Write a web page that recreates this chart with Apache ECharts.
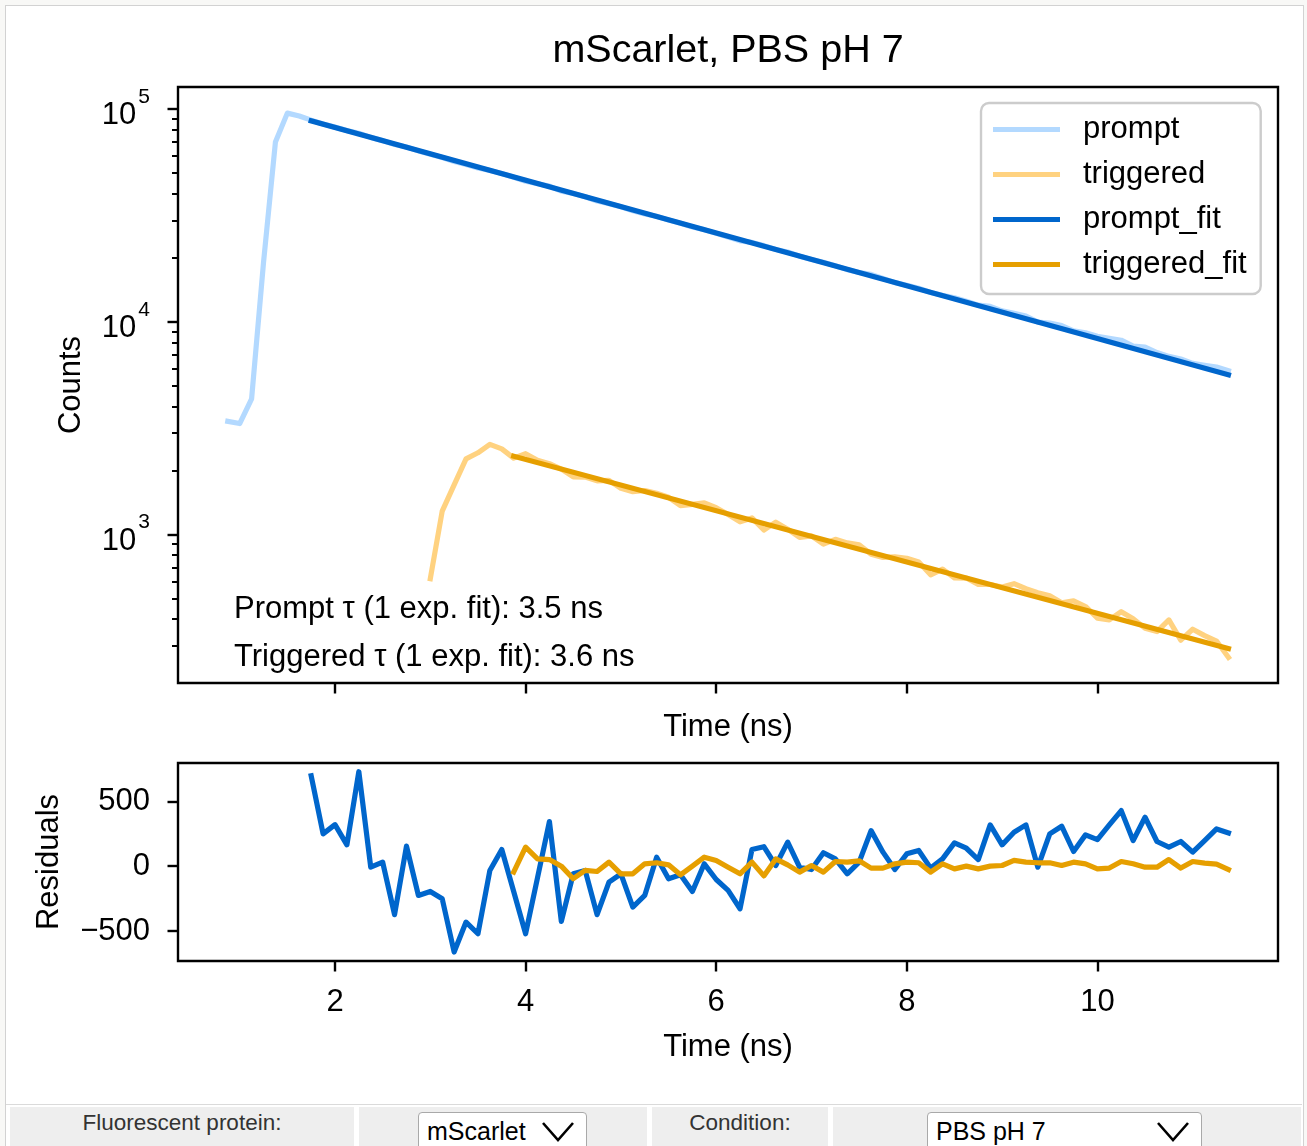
<!DOCTYPE html>
<html>
<head>
<meta charset="utf-8">
<title>mScarlet, PBS pH 7</title>
<script src="https://cdn.jsdelivr.net/npm/echarts@6/dist/echarts.min.js"></script>
<style>
  html, body { margin: 0; padding: 0; width: 1307px; height: 1146px; overflow: hidden;
    background: #f8f8f6; font-family: 'Liberation Sans', Arial, Helvetica, sans-serif; }
  #frame { position: absolute; left: 5px; top: 5px; width: 1299px; height: 1170px;
    box-sizing: border-box; border: 1px solid #d2d2d2; background: #fff; }
  #chart { position: absolute; left: 0; top: 0; width: 1307px; height: 1100px; }
  #rule { position: absolute; left: 6px; top: 1104px; width: 1296px; height: 1px; background: #dadada; }
  .cell { position: absolute; top: 1107px; height: 60px; background: #eeeeee; }
  .lbl { position: absolute; top: 1110px; height: 26px; line-height: 26px; font-size: 22.5px;
    color: #333; text-align: center; white-space: nowrap; }
  .sel { position: absolute; top: 1112px; height: 50px; box-sizing: border-box; border: 1px solid #a9a9a9;
    border-radius: 4px; background: #fff; font-size: 25px; color: #000; line-height: 36px;
    padding-left: 8px; white-space: nowrap; }
  .sel svg { position: absolute; top: 5px; }
</style>
</head>
<body>
<div id="frame"></div>
<div id="chart"></div>
<div id="rule"></div>
<div class="cell" style="left:10px;width:344px"></div>
<div class="lbl" style="left:10px;width:344px">Fluorescent protein:</div>
<div class="cell" style="left:359px;width:288px"></div>
<div class="sel" style="left:418px;width:169px">mScarlet
  <svg style="left:121px" width="36" height="26" viewBox="0 0 36 26"><polyline points="3,5 18,22 33,5" fill="none" stroke="#000" stroke-width="2.6"/></svg>
</div>
<div class="cell" style="left:652px;width:176px"></div>
<div class="lbl" style="left:652px;width:176px">Condition:</div>
<div class="cell" style="left:833px;width:468px"></div>
<div class="sel" style="left:927px;width:275px">PBS pH 7
  <svg style="left:227px" width="36" height="26" viewBox="0 0 36 26"><polyline points="3,5 18,22 33,5" fill="none" stroke="#000" stroke-width="2.6"/></svg>
</div>

<script>
// ---- decay histograms (time in ns, counts per 0.125 ns bin) ----
const promptTime = [
  0.875, 1.0, 1.125, 1.25, 1.375, 1.5, 1.625,
  1.75, 1.875, 2.0, 2.125, 2.25, 2.375, 2.5, 2.625, 2.75, 2.875,
  3.0, 3.125, 3.25, 3.375, 3.5, 3.625, 3.75, 3.875, 4.0, 4.125,
  4.25, 4.375, 4.5, 4.625, 4.75, 4.875, 5.0, 5.125, 5.25, 5.375,
  5.5, 5.625, 5.75, 5.875, 6.0, 6.125, 6.25, 6.375, 6.5, 6.625,
  6.75, 6.875, 7.0, 7.125, 7.25, 7.375, 7.5, 7.625, 7.75, 7.875,
  8.0, 8.125, 8.25, 8.375, 8.5, 8.625, 8.75, 8.875, 9.0, 9.125,
  9.25, 9.375, 9.5, 9.625, 9.75, 9.875, 10.0, 10.125, 10.25, 10.375,
  10.5, 10.625, 10.75, 10.875, 11.0, 11.125, 11.25, 11.375
];
const promptCounts = [
  3400, 3320, 4340, 19000, 69950, 95700, 92700,
  88700, 85160, 82250, 79220, 77010, 73600, 71060, 68160, 66280, 63580,
  61380, 59160, 56670, 54890, 52850, 51470, 49820, 47760, 45750, 44560,
  43420, 41140, 40050, 38670, 36970, 35910, 34710, 33240, 32150, 31310,
  30050, 29020, 27870, 27100, 26030, 25030, 24000, 23600, 22800, 21860,
  21270, 20340, 19610, 19050, 18340, 17580, 17050, 16700, 15960, 15270,
  14850, 14360, 13720, 13310, 12970, 12480, 11960, 11810, 11250, 10960,
  10640, 9953, 9861, 9583, 9062, 8876, 8537, 8358, 8186, 7683,
  7600, 7160, 6871, 6679, 6369, 6239, 6117, 5881
];
const triggeredTime = [
  3.0, 3.125, 3.25, 3.375, 3.5, 3.625, 3.75,
  3.875, 4.0, 4.125, 4.25, 4.375, 4.5, 4.625, 4.75, 4.875, 5.0,
  5.125, 5.25, 5.375, 5.5, 5.625, 5.75, 5.875, 6.0, 6.125, 6.25,
  6.375, 6.5, 6.625, 6.75, 6.875, 7.0, 7.125, 7.25, 7.375, 7.5,
  7.625, 7.75, 7.875, 8.0, 8.125, 8.25, 8.375, 8.5, 8.625, 8.75,
  8.875, 9.0, 9.125, 9.25, 9.375, 9.5, 9.625, 9.75, 9.875, 10.0,
  10.125, 10.25, 10.375, 10.5, 10.625, 10.75, 10.875, 11.0, 11.125, 11.25,
  11.375
];
const triggeredCounts = [
  619, 1286, 1710, 2266, 2419, 2649, 2525,
  2284, 2396, 2230, 2151, 2028, 1862, 1859, 1786, 1796, 1646,
  1588, 1608, 1562, 1494, 1366, 1384, 1406, 1335, 1239, 1146,
  1195, 1049, 1141, 1058, 967, 983, 899, 948, 912, 892,
  807, 779, 785, 772, 742, 645, 686, 624, 623, 581,
  581, 566, 586, 555, 532, 514, 477, 487, 458, 404,
  396, 433, 401, 362, 349, 396, 318, 358, 334, 315,
  264
];

// ---- single-exponential fits (straight lines on the log axis) ----
const promptTau = 3.5;
const triggeredTau = 3.6;
const promptFitTime = [1.75, 11.375];
const promptFitCounts = [88000, 5625];
const triggeredFitTime = [3.875, 11.375];
const triggeredFitCounts = [2330, 290];

// ---- fit residuals (data - fit) over the fitted window ----
const promptResidual = [
  697, 249, 320, 164, 728, -8, 31, -374, 154, -226,
  -195, -251, -662, -431, -521, -33, 128, -195, -521, -90,
  344, -426, -59, -33, -374, -123, -59, -315, -226, 69,
  -97, -67, -195, 18, -103, -187, -328, 128, 150, 5,
  185, -8, -26, 103, 56, -59, 31, 274, 108, -26,
  95, 121, -15, 56, 179, 138, 51, 318, 164, 262,
  318, -8, 249, 308, 113, 241, 205, 318, 428, 197,
  377, 190, 146, 190, 108, 197, 287, 256
];
const triggeredResidual = [
  -46, 146, 56, 51, 0, -97, -33, -41, 31, -59,
  -59, 18, 26, 10, -67, 0, 69, 44, -8, -59,
  31, -75, 56, 10, -46, 5, -46, 36, 31, 41,
  -15, -15, 18, 31, 26, -46, 18, -21, 0, -21,
  0, 5, 44, 31, 26, 26, 5, 31, 18, -21,
  -15, 36, 18, -8, -8, 51, -15, 36, 23, 15,
  -26
];
const promptResidualTime = promptTime.slice(7);
const triggeredResidualTime = triggeredTime.slice(7);

// ---- axis ticks ----
const timeTicks = [2, 4, 6, 8, 10];
const countDecades = [3, 4, 5];                      // labelled 10^3, 10^4, 10^5
const countMinor = [300, 400, 500, 600, 700, 800, 900,
  2000, 3000, 4000, 5000, 6000, 7000, 8000, 9000,
  20000, 30000, 40000, 50000, 60000, 70000, 80000, 90000];
const residualTicks = [-500, 0, 500];

// ---- colours ----
const COL = {
  prompt: '#b3d9ff',
  triggered: '#ffd280',
  promptFit: '#0066cc',
  triggeredFit: '#e69f00'
};

const FONT = "'Liberation Sans', Arial, Helvetica, sans-serif";
const X_MIN = 0.3526, X_MAX = 11.895;
const C_MIN = 200, C_MAX = 127000;
const R_MIN = -731, R_MAX = 795;
const LINE_W = 5.2;

const pairs = (xs, ys) => xs.map((x, i) => [x, ys[i]]);
const line = (name, xs, ys, color, xi, yi) => ({
  type: 'line', name, data: pairs(xs, ys), xAxisIndex: xi, yAxisIndex: yi,
  color, showSymbol: false, symbol: 'none', silent: true, animation: false,
  emphasis: { disabled: true },
  lineStyle: { color, width: LINE_W, cap: 'square', join: 'round' }
});

const majorTick = { show: true, inside: false, length: 10.5, lineStyle: { color: '#000', width: 2.4 } };
const nameStyle = { fontSize: 31, color: '#000', fontFamily: FONT };
const labelStyle = { fontSize: 31, color: '#000', fontFamily: FONT };

const chart = echarts.init(document.getElementById('chart'), null, { renderer: 'canvas' });
chart.setOption({
  animation: false,
  backgroundColor: 'transparent',
  grid: [
    { left: 178, top: 87, width: 1100, height: 596, show: true, borderColor: '#000', borderWidth: 2.4,
      backgroundColor: 'transparent', containLabel: false, outerBoundsMode: 'none' },
    { left: 178, top: 763, width: 1100, height: 198, show: true, borderColor: '#000', borderWidth: 2.4,
      backgroundColor: 'transparent', containLabel: false, outerBoundsMode: 'none' }
  ],
  xAxis: [
    { gridIndex: 0, type: 'value', position: 'bottom', min: X_MIN, max: X_MAX,
      axisLine: { show: false, onZero: false },
      axisTick: Object.assign({}, majorTick, { customValues: timeTicks }),
      axisLabel: { show: false }, splitLine: { show: false },
      name: 'Time (ns)', nameLocation: 'middle', nameGap: 29, nameMoveOverlap: false, nameTextStyle: nameStyle },
    { gridIndex: 1, type: 'value', position: 'bottom', min: X_MIN, max: X_MAX,
      axisLine: { show: false, onZero: false },
      axisTick: Object.assign({}, majorTick, { customValues: timeTicks }),
      axisLabel: Object.assign({ customValues: timeTicks, margin: 26 }, labelStyle),
      splitLine: { show: false },
      name: 'Time (ns)', nameLocation: 'middle', nameGap: 71, nameMoveOverlap: false, nameTextStyle: nameStyle }
  ],
  yAxis: [
    // log scale carrying the count curves
    { gridIndex: 0, type: 'log', logBase: 10, min: C_MIN, max: C_MAX, show: false },
    // decade ticks and labels, laid out in log10 units over the same span
    { gridIndex: 0, type: 'value', position: 'left', min: Math.log10(C_MIN), max: Math.log10(C_MAX),
      axisLine: { show: false, onZero: false },
      axisTick: Object.assign({}, majorTick, { customValues: countDecades }),
      axisLabel: {
        customValues: countDecades, margin: 28,
        formatter: v => '{b|10}{s|' + v + '}',
        rich: {
          b: { fontSize: 31, fontFamily: FONT, color: '#000', verticalAlign: 'bottom', padding: [13.5, 0, 0, 0] },
          s: { fontSize: 21, fontFamily: FONT, color: '#000', verticalAlign: 'top', lineHeight: 21, padding: [0, 0, 0, 2] }
        }
      },
      splitLine: { show: false },
      name: 'Counts', nameLocation: 'middle', nameGap: 91.5, nameRotate: 90, nameMoveOverlap: false, nameTextStyle: nameStyle },
    // minor ticks at 2..9 x 10^n
    { gridIndex: 0, type: 'value', position: 'left', min: Math.log10(C_MIN), max: Math.log10(C_MAX),
      axisLine: { show: false, onZero: false },
      axisTick: { show: true, inside: false, length: 6, lineStyle: { color: '#000', width: 2 },
        customValues: countMinor.map(Math.log10) },
      axisLabel: { show: false }, splitLine: { show: false } },
    // residuals
    { gridIndex: 1, type: 'value', position: 'left', min: R_MIN, max: R_MAX,
      axisLine: { show: false, onZero: false },
      axisTick: Object.assign({}, majorTick, { customValues: residualTicks }),
      axisLabel: Object.assign({ customValues: residualTicks, margin: 28, padding: [4, 0, 0, 0],
        formatter: v => String(v).replace('-', '\u2212') }, labelStyle),
      splitLine: { show: false },
      name: 'Residuals', nameLocation: 'middle', nameGap: 113, nameRotate: 90, nameMoveOverlap: false, nameTextStyle: nameStyle }
  ],
  legend: {
    data: ['prompt', 'triggered', 'prompt_fit', 'triggered_fit'],
    orient: 'vertical', left: 981, top: 103,
    padding: [4, 14, 7, 12], itemGap: 0,
    icon: 'rect', itemWidth: 67, itemHeight: 5,
    itemStyle: { borderWidth: 0 },
    backgroundColor: '#fff', borderColor: '#cccccc', borderWidth: 2.4, borderRadius: 8,
    selectedMode: false,
    textStyle: { fontSize: 31, lineHeight: 45, color: '#000', fontFamily: FONT, padding: [0, 0, 0, 18] }
  },
  graphic: [
    { type: 'text', x: 728, y: 51, silent: true,
      style: { text: 'mScarlet, PBS pH 7', fontSize: 39.5, fontFamily: FONT, fill: '#000', align: 'center', verticalAlign: 'middle' } },
    { type: 'text', x: 234, y: 609.5, silent: true,
      style: { text: 'Prompt \u03c4 (1 exp. fit): ' + promptTau.toFixed(1) + ' ns', fontSize: 31, fontFamily: FONT, fill: '#000', align: 'left', verticalAlign: 'middle' } },
    { type: 'text', x: 234, y: 657.5, silent: true,
      style: { text: 'Triggered \u03c4 (1 exp. fit): ' + triggeredTau.toFixed(1) + ' ns', fontSize: 31, fontFamily: FONT, fill: '#000', align: 'left', verticalAlign: 'middle' } }
  ],
  series: [
    line('prompt', promptTime, promptCounts, COL.prompt, 0, 0),
    line('triggered', triggeredTime, triggeredCounts, COL.triggered, 0, 0),
    line('prompt_fit', promptFitTime, promptFitCounts, COL.promptFit, 0, 0),
    line('triggered_fit', triggeredFitTime, triggeredFitCounts, COL.triggeredFit, 0, 0),
    line('prompt residuals', promptResidualTime, promptResidual, COL.promptFit, 1, 3),
    line('triggered residuals', triggeredResidualTime, triggeredResidual, COL.triggeredFit, 1, 3)
  ]
});
</script>
</body>
</html>
